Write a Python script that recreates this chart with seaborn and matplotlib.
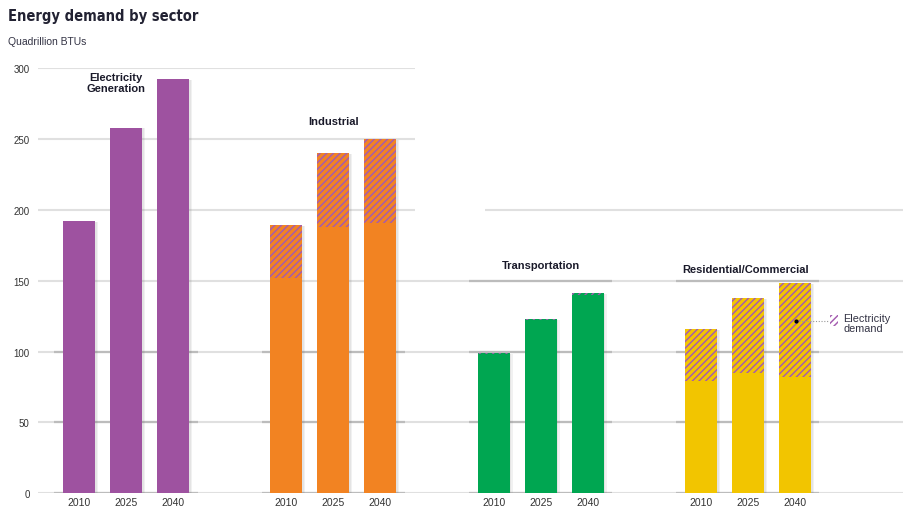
import numpy as np
import pandas as pd
import matplotlib
matplotlib.use("Agg")
import matplotlib.pyplot as plt
from matplotlib.patches import Rectangle
import seaborn as sns

# datos (cuatrillones de BTU)
sectores = ["Electricity Generation", "Industrial", "Transportation", "Residential/Commercial"]
etiquetas_sector = ["Electricity\nGeneration", "Industrial", "Transportation", "Residential/Commercial"]
anios = ["2010", "2025", "2040"]

total_elec_gen = [192, 258, 292]
total_industrial = [189, 240, 250]
total_transporte = [99, 123, 141]
total_residencial = [116, 138, 148]

base_elec_gen = [192, 258, 292]
base_industrial = [152, 188, 191]
base_transporte = [98, 122, 140]
base_residencial = [79, 85, 82]

colores_sector = ["#9E52A0", "#F28322", "#00A651", "#F2C500"]
color_rayado = "#A45BB0"

yticks = [0, 50, 100, 150, 200, 250, 300]


def armar_tabla():
    filas = []
    totales = [total_elec_gen, total_industrial, total_transporte, total_residencial]
    bases = [base_elec_gen, base_industrial, base_transporte, base_residencial]
    for s, tot, bas in zip(sectores, totales, bases):
        for a, t, b in zip(anios, tot, bas):
            filas.append({"sector": s, "anio": a, "total": t, "base": b})
    return pd.DataFrame(filas)


df = armar_tabla()

sns.set_theme(style="white")
plt.rcParams["font.family"] = ["Liberation Sans", "DejaVu Sans"]
plt.rcParams["hatch.linewidth"] = 1.05

fig = plt.figure(figsize=(9.04, 5.10), dpi=100)
# eje: x=38px..904px, y: 0 en 494px, 300 en 69px
ax = fig.add_axes([38 / 904, 1 - 494.3 / 510, 1 - 38 / 904, (494.3 - 69) / 510])

# lineas de guia (claras y tramos algo mas oscuros por grupo)
gris_claro = "#e0e0e0"
gris_oscuro = "#bcbcbc"
x0, x1 = -0.4245, 3.753
for v in [0, 50, 100, 150]:
    ax.hlines(v, x0, x1, color=gris_claro, lw=1.5, zorder=0)
ax.hlines(200, x0, 1.394, color=gris_claro, lw=1.5, zorder=0)
ax.hlines(200, 1.732, x1, color=gris_claro, lw=1.5, zorder=0)
for v in [250, 300]:
    ax.hlines(v, x0, 1.394, color=gris_claro, lw=1.5, zorder=0)
for i in range(4):
    niveles = [0, 50, 100] + ([150] if i >= 2 else [])
    for v in niveles:
        ax.hlines(v, i - 0.345, i + 0.345, color=gris_oscuro, lw=1.6, zorder=0.5)

# barras totales (parte rayada = demanda electrica)
sns.barplot(data=df, x="sector", y="total", hue="anio", order=sectores, hue_order=anios,
            width=0.68, gap=0.32, errorbar=None, legend=False, ax=ax, zorder=2)
n_cont = len(ax.containers)
dx_sombra = 3 / 207.3
for cont in ax.containers:
    for j, barra in enumerate(cont):
        barra.set_facecolor(colores_sector[j])
        barra.set_edgecolor(color_rayado)
        barra.set_linewidth(0)
        barra.set_hatch("/////")
        # sombra suave a la derecha
        for paso, alfa in [(1.0, 0.10), (0.55, 0.10)]:
            ax.add_patch(Rectangle((barra.get_x() + dx_sombra * paso, 0), barra.get_width(),
                                   barra.get_height() - 0.6, facecolor="#777777", alpha=alfa,
                                   lw=0, zorder=1.5))

# barras base (color liso)
sns.barplot(data=df, x="sector", y="base", hue="anio", order=sectores, hue_order=anios,
            width=0.68, gap=0.32, errorbar=None, legend=False, ax=ax, zorder=3)
for cont in ax.containers[n_cont:]:
    for j, barra in enumerate(cont):
        barra.set_facecolor(colores_sector[j])
        barra.set_edgecolor("none")
        barra.set_linewidth(0)

# etiquetas de anio bajo cada barra
centros, textos = [], []
for k, cont in enumerate(ax.containers[:n_cont]):
    for barra in cont:
        centros.append(barra.get_x() + barra.get_width() / 2)
        textos.append(anios[k])
ax.set_xticks(centros, textos)
ax.tick_params(axis="x", length=0, pad=3, labelsize=7.5, labelcolor="#333333")
ax.set_yticks(yticks)
ax.tick_params(axis="y", length=0, pad=6, labelsize=7, labelcolor="#333333")

ax.set_xlim(x0, x1)
ax.set_ylim(0, 300)
ax.set_xlabel("")
ax.set_ylabel("")
for lado in ax.spines.values():
    lado.set_visible(False)

# nombres de sector
pos_etiquetas = [(-0.048, 289.5), (1.003, 262.5), (2.0, 161), (2.99, 158.5)]
for texto, (x, y) in zip(etiquetas_sector, pos_etiquetas):
    ax.text(x, y, texto, ha="center", va="center", fontsize=8, fontweight="bold",
            color="#1a1a2a", linespacing=1.15, zorder=5)

# leyenda de demanda electrica
ax.plot([3.232, 3.39], [121.5, 121.5], ls=(0, (1, 1.5)), color="#999999", lw=0.8, zorder=6)
ax.plot(3.232, 121.5, "o", color="black", ms=2, zorder=7)
ax.add_patch(Rectangle((3.396, 118), 0.04, 7.5, facecolor="white", edgecolor=color_rayado,
                       hatch="/////", lw=0, zorder=6))
ax.text(3.459, 127, "Electricity\ndemand", ha="left", va="top", fontsize=7.8,
        color="#333344", linespacing=1.0, zorder=6)

# titulo y unidades
fig.text(8 / 904, 1 - 17 / 510, "Energy demand by sector", ha="left", va="center",
         fontsize=10.5, fontweight="bold", fontstretch="condensed", color="#222233",
         family=["DejaVu Sans"])
fig.text(8 / 904, 1 - 42 / 510, "Quadrillion BTUs", ha="left", va="center",
         fontsize=7.5, color="#333344")

plt.savefig("out.png", dpi=100)
